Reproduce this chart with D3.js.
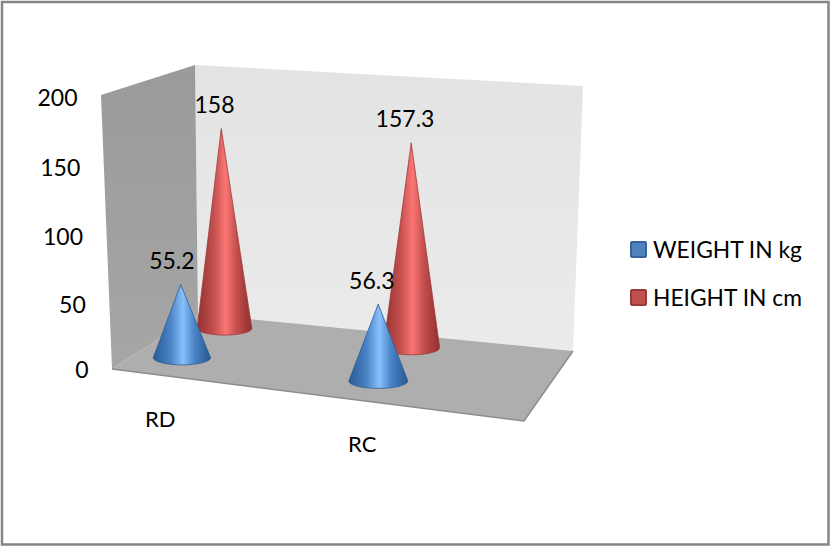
<!DOCTYPE html>
<html>
<head>
<meta charset="utf-8">
<script src="https://cdn.jsdelivr.net/npm/d3@7"></script>
<style>
  html, body { margin: 0; padding: 0; background: #fff; }
  svg { display: block; }
  text { font-family: Lato, Carlito, "Open Sans", sans-serif; fill: #000; }
</style>
</head>
<body>
<svg id="chart" width="830" height="546"></svg>
<script>
const categories = ["RD", "RC"];
const seriesNames = ["WEIGHT IN kg", "HEIGHT IN cm"];
const weightValues = [55.2, 56.3];
const heightValues = [158, 157.3];
const yTicks = [0, 50, 100, 150, 200];

const svg = d3.select("#chart");
const W = 830, H = 546;

// Corners of the 3D box as they appear on the page.
const floorCorners = { fl: [112, 369], fr: [524, 421], bl: [198, 314], br: [573, 351] };
const wallH = { fl: 274, fr: 290, bl: 249, br: 265 };
const wallTopX = { fl: 101, bl: 195, br: 583 };

const lerp = (a, b, t) => a + (b - a) * t;
const floorPoint = (u, v) => {
  const c = floorCorners;
  const l = [lerp(c.fl[0], c.bl[0], v), lerp(c.fl[1], c.bl[1], v)];
  const r = [lerp(c.fr[0], c.br[0], v), lerp(c.fr[1], c.br[1], v)];
  return [lerp(l[0], r[0], u), lerp(l[1], r[1], u)];
};
const fullHeight = (u, v) =>
  lerp(lerp(wallH.fl, wallH.bl, v), lerp(wallH.fr, wallH.br, v), u);

// Unit scales: position along the floor, depth into it, and value up the box.
const xUnit = d3.scalePoint().domain(categories).range([0.11, 0.6]);
const zUnit = d3.scalePoint().domain(seriesNames).range([0.3, 0.82]);
const yUnit = d3.scaleLinear().domain([0, 200]).range([0, 0.99]);
// Tick spacing opens up towards the top because of the perspective.
const tickY = d3.scaleLinear().domain(yTicks).range([369, 304, 236, 167, 97]);

const defs = svg.append("defs");
const shades = [
  { id: "coneBlue", stops: ["#2a5a94", "#4a83c6", "#88c0fb", "#4a83c6", "#285690"], edge: "#2f5f98" },
  { id: "coneRed",  stops: ["#94312f", "#c24f4d", "#fb7674", "#c24f4d", "#902f2d"], edge: "#a03a38" }
];
shades.forEach(s => {
  const g = defs.append("linearGradient").attr("id", s.id)
    .attr("x1", 0).attr("x2", 1).attr("y1", 0).attr("y2", 0);
  [0, 0.3, 0.52, 0.72, 1].forEach((o, i) =>
    g.append("stop").attr("offset", o).attr("stop-color", s.stops[i]));
});
const backGrad = defs.append("linearGradient").attr("id", "backWall")
  .attr("x1", 0).attr("x2", 0).attr("y1", 0).attr("y2", 1);
backGrad.append("stop").attr("offset", 0).attr("stop-color", "#e3e3e3");
backGrad.append("stop").attr("offset", 1).attr("stop-color", "#ebebeb");
const sideGrad = defs.append("linearGradient").attr("id", "sideWall")
  .attr("x1", 0).attr("x2", 0).attr("y1", 0).attr("y2", 1);
sideGrad.append("stop").attr("offset", 0).attr("stop-color", "#9a9a9a");
sideGrad.append("stop").attr("offset", 1).attr("stop-color", "#a6a6a6");

// Outer frame
svg.append("rect").attr("x", 2).attr("y", 2).attr("width", W - 3.5).attr("height", H - 3.5)
  .attr("fill", "#fff").attr("stroke", "#868686").attr("stroke-width", 2.5);

// Box walls and floor
const poly = pts => "M" + pts.map(p => p.join(",")).join("L") + "Z";
const wallTop = k => [wallTopX[k], floorCorners[k][1] - wallH[k]];
svg.append("path").attr("fill", "url(#backWall)")
  .attr("d", poly([wallTop("bl"), wallTop("br"), floorCorners.br, floorCorners.bl]));
svg.append("path").attr("fill", "url(#sideWall)")
  .attr("d", poly([wallTop("fl"), wallTop("bl"), floorCorners.bl, floorCorners.fl]));
svg.append("path").attr("fill", "#aeaeae")
  .attr("d", poly([floorCorners.fl, floorCorners.bl, floorCorners.br, floorCorners.fr]));
svg.append("path").attr("fill", "none").attr("stroke", "#8c8c8c").attr("stroke-width", 1.5)
  .attr("d", "M" + [floorCorners.fl, floorCorners.fr, floorCorners.br].map(p => p.join(",")).join("L"));

// Value axis labels follow the slanted front edge of the side wall
yTicks.forEach(t => {
  svg.append("text")
    .attr("x", lerp(wallTopX.fl, floorCorners.fl[0], 1 - t / 200) - 23.5)
    .attr("y", tickY(t))
    .attr("text-anchor", "end")
    .attr("dominant-baseline", "central")
    .attr("font-size", 23)
    .text(t);
});

// Cones, back series first so the nearer ones overlap them.
// The apex leans slightly towards the left wall, as it does in perspective.
const rows = [
  { name: seriesNames[1], values: heightValues, shade: shades[1] },
  { name: seriesNames[0], values: weightValues, shade: shades[0] }
];
const labelShift = { RD: -10, RC: -6.5 };
rows.forEach(row => {
  row.values.forEach((val, i) => {
    const cat = categories[i];
    const u = xUnit(cat), v = zUnit(row.name);
    const [cx, cy] = floorPoint(u, v);
    const full = fullHeight(u, v);
    const h = yUnit(val) * full;
    const rx = full * 0.107, ry = rx * 0.25;
    const tipX = cx - (0.65 - u) * h * 0.03;
    svg.append("path")
      .attr("d", `M${cx - rx},${cy} L${tipX},${cy - h} L${cx + rx},${cy} A${rx},${ry} 0 0 1 ${cx - rx},${cy} Z`)
      .attr("fill", `url(#${row.shade.id})`)
      .attr("stroke", row.shade.edge)
      .attr("stroke-width", 0.8)
      .attr("stroke-linejoin", "round");
    svg.append("text")
      .attr("x", cx + labelShift[cat])
      .attr("y", cy - h - 24.5)
      .attr("text-anchor", "middle")
      .attr("dominant-baseline", "central")
      .attr("font-size", 23)
      .text(val);
  });
});

// Category labels along the front of the floor
categories.forEach(c => {
  const [x, y] = floorPoint(xUnit(c), 0);
  svg.append("text")
    .attr("x", x + 3)
    .attr("y", y + 43.5)
    .attr("text-anchor", "middle")
    .attr("dominant-baseline", "central")
    .attr("font-size", 22)
    .text(c);
});

// Legend
const legendY = d3.scalePoint().domain(seriesNames).range([250, 298]);
seriesNames.forEach((name, i) => {
  const g = svg.append("g").attr("transform", `translate(630,${legendY(name)})`);
  g.append("rect").attr("x", 1).attr("y", -8).attr("width", 15).attr("height", 15).attr("rx", 1)
    .attr("fill", i === 0 ? "#4f81bd" : "#c0504d")
    .attr("stroke", i === 0 ? "#35639b" : "#973b39")
    .attr("stroke-width", 2);
  g.append("text").attr("x", 23).attr("y", -1)
    .attr("dominant-baseline", "central")
    .attr("font-size", 22.8)
    .text(name);
});
</script>
</body>
</html>
